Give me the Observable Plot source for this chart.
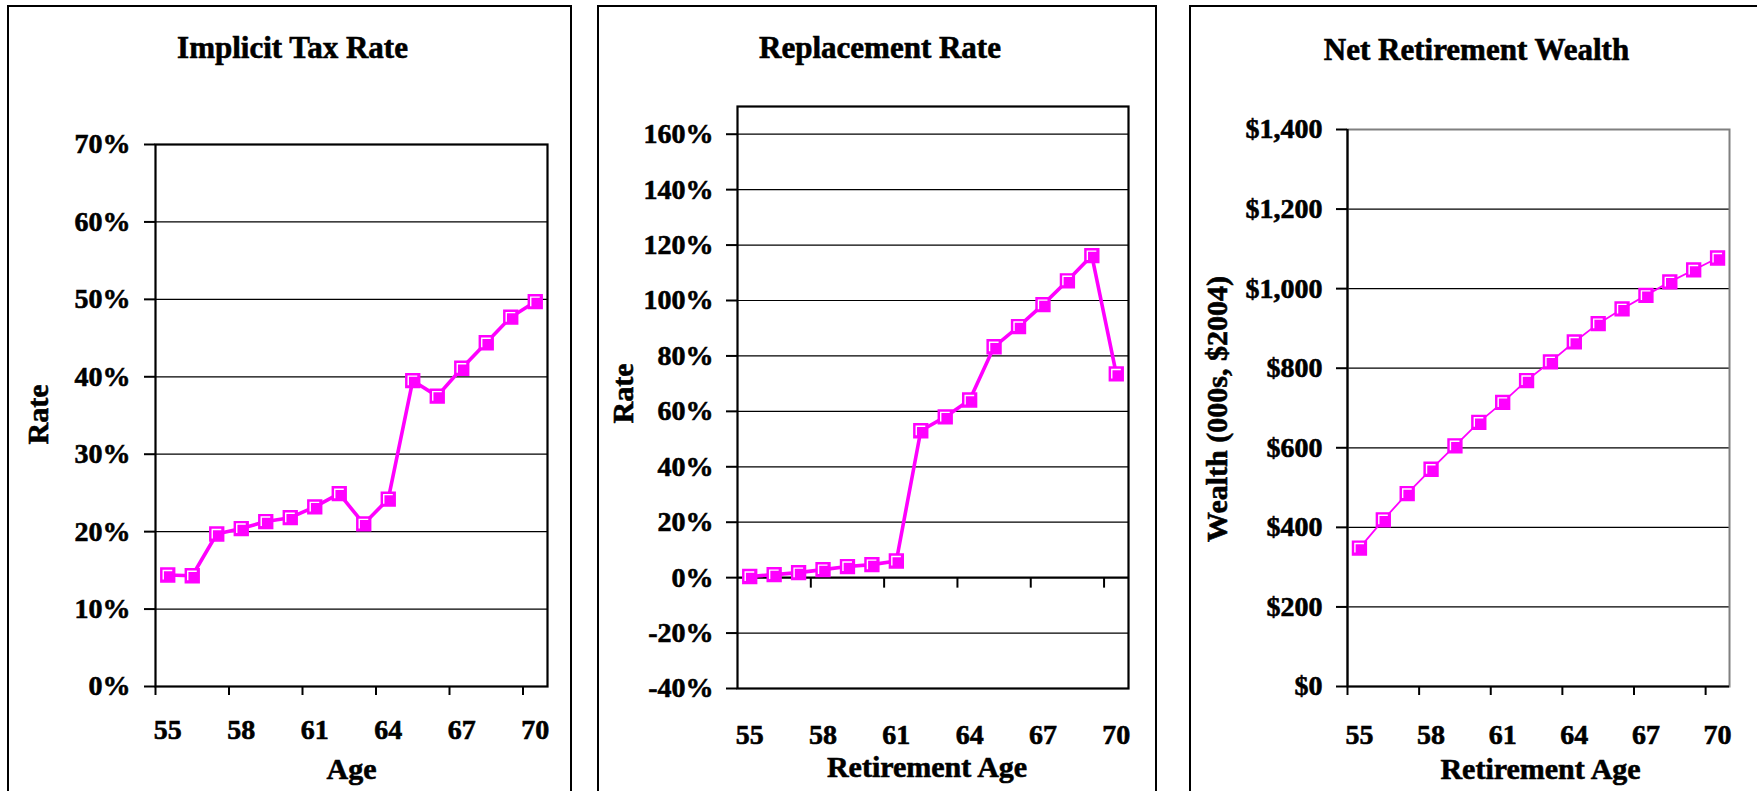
<!DOCTYPE html>
<html>
<head>
<meta charset="utf-8">
<script src="https://cdn.jsdelivr.net/npm/d3@7"></script>
<script src="https://cdn.jsdelivr.net/npm/@observablehq/plot@0.6"></script>
<style>
  html, body { margin: 0; padding: 0; background: #fff; }
  body { width: 1757px; height: 791px; position: relative; overflow: hidden; }
  .frame { position: absolute; top: 5px; height: 900px; border: 2px solid #000; box-sizing: border-box; }
  .panel { position: absolute; top: 0; }
  .panel svg { background: transparent !important; }
  .panel svg text { stroke: #000; stroke-width: 0.6px; paint-order: stroke; }
</style>
</head>
<body>
<div class="frame" style="left:7px; width:565px;"></div>
<div class="frame" style="left:597px; width:560px;"></div>
<div class="frame" style="left:1189px; width:600px;"></div>
<div class="panel" id="p1" style="left:10px;"></div>
<div class="panel" id="p2" style="left:600px;"></div>
<div class="panel" id="p3" style="left:1192px;"></div>
<script>
// ---------- data ----------
const ages = [55, 56, 57, 58, 59, 60, 61, 62, 63, 64, 65, 66, 67, 68, 69, 70];
const xLabelAges = [55, 58, 61, 64, 67, 70];
const implicitTaxRate = [14.4, 14.3, 19.7, 20.4, 21.3, 21.8, 23.2, 24.9, 21.0, 24.2, 39.5, 37.5, 41.1, 44.4, 47.7, 49.7];
const replacementRate = [0.4, 1.1, 1.8, 2.9, 4.0, 4.7, 6.0, 53.0, 58.0, 64.1, 83.3, 90.6, 98.5, 107.1, 116.2, 73.5];
const netRetirementWealth = [348, 419, 485, 546, 605, 664, 714, 769, 816, 866, 912, 949, 983, 1017, 1047, 1077];
const taxTicks = [0, 10, 20, 30, 40, 50, 60, 70];
const replTicks = [-40, -20, 0, 20, 40, 60, 80, 100, 120, 140, 160];
const wealthTicks = [0, 200, 400, 600, 800, 1000, 1200, 1400];
const titles = ["Implicit Tax Rate", "Replacement Rate", "Net Retirement Wealth"];
const yLabels = ["Rate", "Rate", "Wealth (000s, $2004)"];
const xLabels = ["Age", "Retirement Age", "Retirement Age"];

// ---------- helpers ----------
const MAGENTA = "#FF00FF";
const FONT = "'Liberation Serif', 'Times New Roman', Times, serif";
const boundaries = xLabelAges.map(a => a - 0.5);          // category boundaries where Excel puts tick marks
const xDomain = [ages[0] - 0.5, ages[ages.length - 1] + 0.5];

const squareSym = {draw(ctx, size) { const s = Math.sqrt(size) / 2; ctx.moveTo(-s, -s); ctx.lineTo(s, -s); ctx.lineTo(s, s); ctx.lineTo(-s, s); ctx.closePath(); }};
const highlightSym = {draw(ctx, size) { const s = Math.sqrt(size) / 2 - 2.4; ctx.moveTo(-s, s); ctx.lineTo(-s, -s); ctx.lineTo(s, -s); }};
const downTickSym = {draw(ctx) { ctx.moveTo(0, 0); ctx.lineTo(0, 10); }};

function series(values) { return ages.map((a, i) => ({age: a, v: values[i]})); }

function panel(o) {
  const data = series(o.values);
  const marks = [
    Plot.ruleY(o.grid, {stroke: "#000", strokeWidth: 1.2}),
    o.frameGray
      ? Plot.frame({stroke: "#808080", strokeWidth: 2})
      : Plot.frame({stroke: "#000", strokeWidth: 2.2}),
  ];
  if (o.frameGray) {
    marks.push(Plot.ruleX([xDomain[0]], {stroke: "#000", strokeWidth: 2.2}));
    marks.push(Plot.ruleY([o.yDomain[0]], {stroke: "#000", strokeWidth: 2.2}));
  }
  if (o.zeroAxis) {
    marks.push(Plot.ruleY([0], {stroke: "#000", strokeWidth: 2.2}));
    marks.push(Plot.dot(boundaries.slice(1), {x: d => d, y: () => 0, symbol: downTickSym, stroke: "#000", strokeWidth: 2, fill: "none"}));
  } else {
    marks.push(Plot.axisX({ticks: boundaries, tickSize: 9, tickFormat: () => "", label: null, strokeWidth: 2}));
  }
  marks.push(
    Plot.axisY({ticks: o.yTicks, tickFormat: o.yFormat, tickSize: 11, tickPadding: o.yTickPadding, fontSize: 28, fontWeight: "bold", label: null, strokeWidth: 2}),
    Plot.axisX({ticks: xLabelAges, tickSize: 0, tickPadding: o.xTickPadding, fontSize: 28, fontWeight: "bold", label: null}),
    Plot.line(data, {x: "age", y: "v", stroke: MAGENTA, strokeWidth: o.lineWidth}),
    Plot.dot(data, {x: "age", y: "v", r: 7.8, symbol: squareSym, fill: MAGENTA, stroke: MAGENTA, strokeWidth: 1.5}),
    Plot.dot(data, {x: "age", y: "v", r: 7.8, symbol: highlightSym, fill: "none", stroke: "#fff", strokeWidth: 1.4}),
    Plot.text([o.title], {text: d => d, frameAnchor: "top", lineAnchor: "middle", textAnchor: "middle", dx: o.titleDx, dy: o.titleDy, fontSize: 31, fontWeight: "bold", fill: "#000"}),
    Plot.text([o.yLabel], {text: d => d, frameAnchor: "left", lineAnchor: "middle", textAnchor: "middle", dx: o.yLabelDx, dy: o.yLabelDy || 0, rotate: -90, fontSize: 30, fontWeight: "bold", fill: "#000"}),
    Plot.text([o.xLabel], {text: d => d, frameAnchor: "bottom", lineAnchor: "middle", textAnchor: "middle", dx: o.xLabelDx, dy: o.xLabelDy, fontSize: 30, fontWeight: "bold", fill: "#000"})
  );
  return Plot.plot({
    width: o.width, height: o.height,
    marginLeft: o.marginLeft, marginRight: o.marginRight, marginTop: o.marginTop, marginBottom: o.marginBottom,
    x: {domain: xDomain, axis: null},
    y: {domain: o.yDomain, axis: null},
    style: {fontFamily: FONT, fontWeight: "bold", fontSize: "28px", color: "#000", background: "transparent", overflow: "visible"},
    marks
  });
}

document.getElementById("p1").append(panel({
  width: 560, height: 791, marginLeft: 145, marginRight: 23, marginTop: 144, marginBottom: 105,
  values: implicitTaxRate, yDomain: [0, 70], yTicks: taxTicks, grid: taxTicks.slice(1, -1),
  yFormat: d => `${d}%`, yTickPadding: 14, xTickPadding: 33,
  title: titles[0], titleDx: -59, titleDy: -96,
  yLabel: yLabels[0], yLabelDx: -117, yLabelDy: -1,
  xLabel: xLabels[0], xLabelDx: 0, xLabelDy: 83,
  lineWidth: 3.6
}));

document.getElementById("p2").append(panel({
  width: 555, height: 791, marginLeft: 137, marginRight: 27, marginTop: 106, marginBottom: 103,
  values: replacementRate, yDomain: [-40, 170], yTicks: replTicks, grid: replTicks.filter(d => d !== -40 && d !== 0),
  yFormat: d => `${d}%`, yTickPadding: 13, xTickPadding: 36,
  title: titles[1], titleDx: -53, titleDy: -58,
  yLabel: yLabels[1], yLabelDx: -114, yLabelDy: -4,
  xLabel: xLabels[1], xLabelDx: -6, xLabelDy: 79,
  lineWidth: 3.6, zeroAxis: true
}));

document.getElementById("p3").append(panel({
  width: 565, height: 791, marginLeft: 155, marginRight: 28, marginTop: 129, marginBottom: 105,
  values: netRetirementWealth, yDomain: [0, 1400], yTicks: wealthTicks, grid: wealthTicks.slice(1, -1),
  yFormat: d3.format("$,"), yTickPadding: 14, xTickPadding: 38,
  title: titles[2], titleDx: -62, titleDy: -79,
  yLabel: yLabels[2], yLabelDx: -130, yLabelDy: 1,
  xLabel: xLabels[2], xLabelDx: 2, xLabelDy: 83,
  lineWidth: 1.8, frameGray: true
}));
</script>
</body>
</html>
